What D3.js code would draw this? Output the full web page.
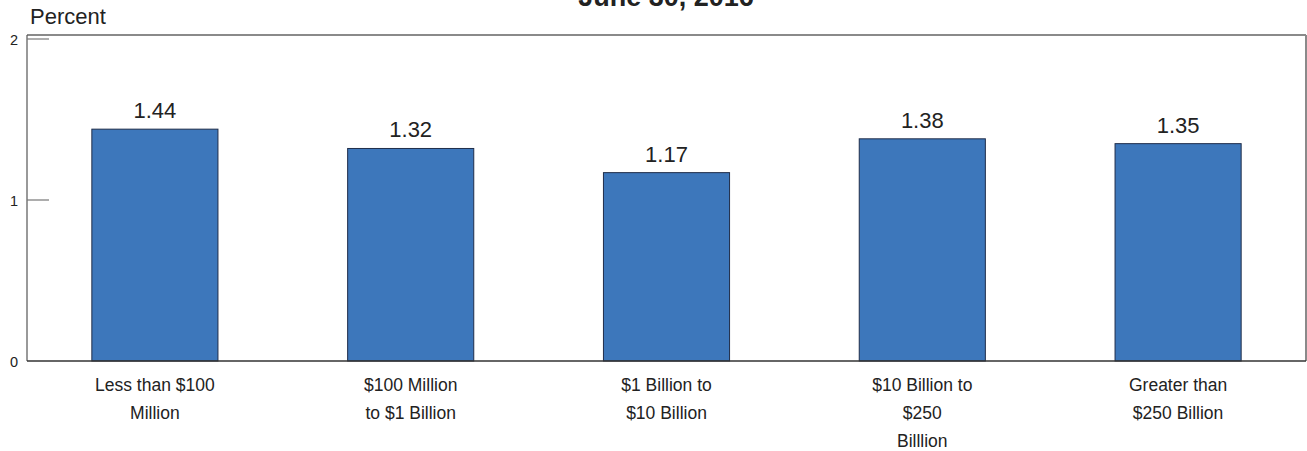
<!DOCTYPE html>
<html>
<head>
<meta charset="utf-8">
<script src="https://cdn.jsdelivr.net/npm/d3@7"></script>
<style>
  html, body { margin: 0; padding: 0; background: #fff; }
  svg { display: block; font-family: "Liberation Sans", Arial, sans-serif; }
</style>
</head>
<body>
<svg id="chart" width="1307" height="451"></svg>
<script>
const categories = [
  ["Less than $100", "Million"],
  ["$100 Million", "to $1 Billion"],
  ["$1 Billion to", "$10 Billion"],
  ["$10 Billion to", "$250", "Billlion"],
  ["Greater than", "$250 Billion"]
];
const values = [1.44, 1.32, 1.17, 1.38, 1.35];
const yTicks = [0, 1, 2];
const title = "June 30, 2016";
const yLabel = "Percent";

(function () {
const svg = d3.select("#chart");
const pLeft = 27, pRight = 1306, pTop = 35, pBottom = 361;

const x = d3.scaleBand()
  .domain(d3.range(values.length))
  .range([pLeft, pRight])
  .paddingInner(0.507)
  .paddingOuter(0.2535);

const y = d3.scaleLinear().domain([0, 2]).range([pBottom, 39]);

// Title (cut at top, as in the reference)
svg.append("text")
  .attr("x", 666).attr("y", 6)
  .attr("text-anchor", "middle")
  .attr("font-size", 27).attr("font-weight", "bold")
  .attr("fill", "#222")
  .text(title);

svg.append("text")
  .attr("x", 30).attr("y", 24)
  .attr("font-size", 22)
  .attr("fill", "#222")
  .text(yLabel);

// Frame
svg.append("line").attr("x1", pLeft).attr("x2", pRight).attr("y1", pTop).attr("y2", pTop)
  .attr("stroke", "#8a8a8a").attr("stroke-width", 2);
svg.append("line").attr("x1", pRight).attr("x2", pRight).attr("y1", pTop).attr("y2", pBottom)
  .attr("stroke", "#8a8a8a").attr("stroke-width", 2);
svg.append("line").attr("x1", pLeft).attr("x2", pLeft).attr("y1", pTop).attr("y2", pBottom)
  .attr("stroke", "#555").attr("stroke-width", 1.2);

// Y ticks
svg.selectAll(".ytick").data(yTicks.filter(d => d > 0)).enter().append("line")
  .attr("x1", pLeft).attr("x2", pLeft + 22)
  .attr("y1", d => y(d)).attr("y2", d => y(d))
  .attr("stroke", "#777").attr("stroke-width", 1.2);

svg.selectAll(".ylab").data(yTicks).enter().append("text")
  .attr("x", 18).attr("y", d => y(d) + 6)
  .attr("text-anchor", "end")
  .attr("font-size", 14.5)
  .attr("fill", "#222")
  .text(d => d);

// Bars
svg.selectAll(".bar").data(values).enter().append("rect")
  .attr("x", (d, i) => x(i))
  .attr("width", x.bandwidth())
  .attr("y", d => y(d))
  .attr("height", d => pBottom - y(d))
  .attr("fill", "#3d77bb")
  .attr("stroke", "#1f2d4a")
  .attr("stroke-width", 1);

// Bottom axis line
svg.append("line").attr("x1", pLeft).attr("x2", pRight).attr("y1", pBottom).attr("y2", pBottom)
  .attr("stroke", "#333").attr("stroke-width", 1.5);

// Value labels
svg.selectAll(".vlab").data(values).enter().append("text")
  .attr("x", (d, i) => x(i) + x.bandwidth() / 2)
  .attr("y", d => y(d) - 11)
  .attr("text-anchor", "middle")
  .attr("font-size", 22)
  .attr("fill", "#222")
  .text(d => d.toFixed(2));

// Category labels
const cat = svg.selectAll(".cat").data(categories).enter().append("text")
  .attr("text-anchor", "middle")
  .attr("font-size", 17.5)
  .attr("fill", "#222");
cat.selectAll("tspan").data((d, i) => d.map(s => ({ s, i }))).enter().append("tspan")
  .attr("x", d => x(d.i) + x.bandwidth() / 2)
  .attr("y", (d, j) => 391 + j * 28)
  .text(d => d.s);
})();
</script>
</body>
</html>
